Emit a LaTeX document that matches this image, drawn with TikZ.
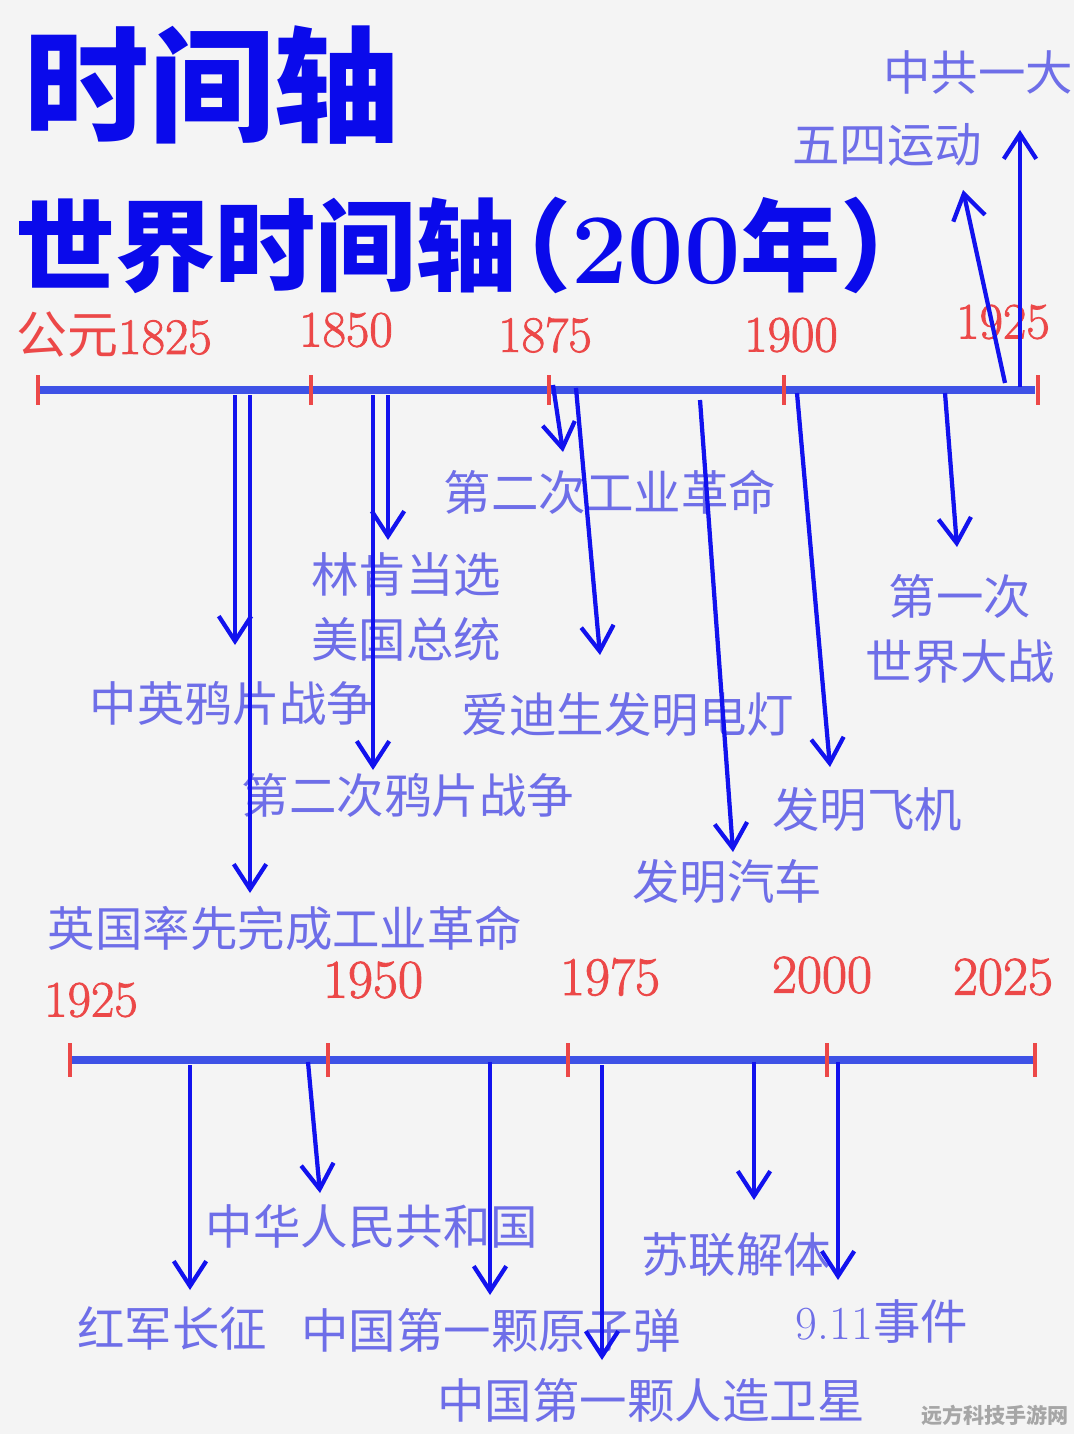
\documentclass[tikz,border=0pt]{standalone}
\usepackage{fontspec}
\newfontfamily\cjk{Noto Sans CJK SC}
\newfontfamily\yrfont{Latin Modern Roman}[FakeBold=1.6]
\usetikzlibrary{arrows.meta}

\definecolor{bgpaper}{RGB}{244,244,244}
\definecolor{titleblue}{RGB}{10,10,235}
\definecolor{evtblue}{RGB}{110,110,232}
\definecolor{axisblue}{RGB}{62,82,230}
\definecolor{arrblue}{RGB}{18,18,238}
\definecolor{yrred}{RGB}{236,72,72}

\begin{document}
\begin{tikzpicture}[
  x=0.2mm, y=-0.2mm,
  evt/.style={inner sep=0pt, text=evtblue, font=\cjk\fontsize{27}{37}\selectfont, align=center},
  yr/.style={inner sep=0pt, text=yrred, font=\yrfont\fontsize{29}{32}\selectfont},
  yrbig/.style={yr, font=\yrfont\fontsize{31}{34}\selectfont},
  axisline/.style={axisblue, line width=1.6mm},
  tickmark/.style={yrred, line width=0.8mm},
  arr/.style={arrblue, line width=0.85mm, -{Straight Barb[length=5mm, width=6.5mm]}}
]
  % Paper
  \fill[bgpaper] (0,0) rectangle (1074,1434);
  \useasboundingbox (0,0) rectangle (1074,1434);

  % Titles
  \node[inner sep=0pt, text=titleblue, font=\cjk\bfseries\fontsize{71}{80}\selectfont] (title) at (212,85) {时间轴};
  \node[inner sep=0pt, anchor=west, text=titleblue, font=\cjk\bfseries\fontsize{57}{64}\selectfont] (subtitle) at (15,245)
    {世界时间轴\kern-0.45em（{\normalfont\bfseries 200}年）};

  % Axis 1825--1925
  \coordinate (t0) at (38,390);
  \coordinate (t1) at (1035,390);
  \draw[axisline] (t0) -- (t1);
  \foreach \x in {38,311,549,784,1038}
    \draw[tickmark] (\x,375) -- (\x,405);
  \node[yr] (y1825) at (114,335) {{\cjk 公元}1825};
  \node[yr] (y1850) at (346,330) {1850};
  \node[yr] (y1875) at (545,335) {1875};
  \node[yr] (y1900) at (791,335) {1900};
  \node[yr] (y1925a) at (1003,322) {1925};

  % Events 1825--1925
  \node[evt] (opium1) at (232,703) {中英鸦片战争};
  \node[evt] (britain) at (285,928) {英国率先完成工业革命};
  \node[evt] (lincoln) at (406,607) {林肯当选\\美国总统};
  \node[evt] (indrev) at (610,492) {第二次工业革命};
  \node[evt] (edison) at (628,715) {爱迪生发明电灯};
  \node[evt] (opium2) at (408,795) {第二次鸦片战争};
  \node[evt] (car) at (727,882) {发明汽车};
  \node[evt] (plane) at (867,810) {发明飞机};
  \node[evt] (ww1) at (960,629) {第一次\\世界大战};
  \node[evt] (may4) at (887,145) {五四运动};
  \node[evt] (cpc) at (978,72) {中共一大};

  \coordinate (opium1A) at (235,395);  \coordinate (opium1B) at (235,645);
  \coordinate (britainA) at (250,395); \coordinate (britainB) at (250,893);
  \coordinate (opium2A) at (373,395);  \coordinate (opium2B) at (373,770);
  \coordinate (lincolnA) at (388,395); \coordinate (lincolnB) at (388,540);
  \coordinate (indrevA) at (553,385);  \coordinate (indrevB) at (563,452);
  \coordinate (edisonA) at (576,388);  \coordinate (edisonB) at (600,655);
  \coordinate (carA) at (700,400);     \coordinate (carB) at (733,852);
  \coordinate (planeA) at (797,393);   \coordinate (planeB) at (830,767);
  \coordinate (ww1A) at (945,393);     \coordinate (ww1B) at (957,547);
  \coordinate (may4A) at (1005,383);   \coordinate (may4B) at (963,190);
  \coordinate (cpcA) at (1020,387);    \coordinate (cpcB) at (1020,130);

  \draw[arr] (opium1A) -- (opium1B);
  \draw[arr] (britainA) -- (britainB);
  \draw[arr] (opium2A) -- (opium2B);
  \draw[arr] (lincolnA) -- (lincolnB);
  \draw[arr] (indrevA) -- (indrevB);
  \draw[arr] (edisonA) -- (edisonB);
  \draw[arr] (carA) -- (carB);
  \draw[arr] (planeA) -- (planeB);
  \draw[arr] (ww1A) -- (ww1B);
  \draw[arr] (may4A) -- (may4B);
  \draw[arr] (cpcA) -- (cpcB);

  % Axis 1925--2025
  \coordinate (s0) at (72,1060);
  \coordinate (s1) at (1035,1060);
  \draw[axisline] (s0) -- (s1);
  \foreach \x in {70,328,568,827,1035}
    \draw[tickmark] (\x,1043) -- (\x,1077);
  \node[yr] (y1925b) at (91,1000) {1925};
  \node[yrbig] (y1950) at (373,980) {1950};
  \node[yrbig] (y1975) at (610,977) {1975};
  \node[yrbig] (y2000) at (822,975) {2000};
  \node[yrbig] (y2025) at (1003,977) {2025};

  % Events 1925--2025
  \node[evt] (march) at (172,1328) {红军长征};
  \node[evt] (prc) at (372,1227) {中华人民共和国};
  \node[evt] (bomb) at (491,1330) {中国第一颗原子弹};
  \node[evt] (sat) at (651,1400) {中国第一颗人造卫星};
  \node[evt] (ussr) at (736,1255) {苏联解体};
  \node[evt] (wtc) at (882,1322) {{\normalfont 9.11}事件};

  \coordinate (marchA) at (190,1065); \coordinate (marchB) at (190,1290);
  \coordinate (prcA) at (308,1062);   \coordinate (prcB) at (320,1193);
  \coordinate (bombA) at (490,1062);  \coordinate (bombB) at (490,1295);
  \coordinate (satA) at (602,1065);   \coordinate (satB) at (602,1360);
  \coordinate (ussrA) at (754,1062);  \coordinate (ussrB) at (754,1200);
  \coordinate (wtcA) at (838,1062);   \coordinate (wtcB) at (838,1280);

  \draw[arr] (marchA) -- (marchB);
  \draw[arr] (prcA) -- (prcB);
  \draw[arr] (bombA) -- (bombB);
  \draw[arr] (satA) -- (satB);
  \draw[arr] (ussrA) -- (ussrB);
  \draw[arr] (wtcA) -- (wtcB);

  % Watermark
  \node[inner sep=0pt, text=gray!70, font=\cjk\bfseries\fontsize{12}{14}\selectfont] (mark) at (995,1415) {远方科技手游网};
\end{tikzpicture}
\end{document}
